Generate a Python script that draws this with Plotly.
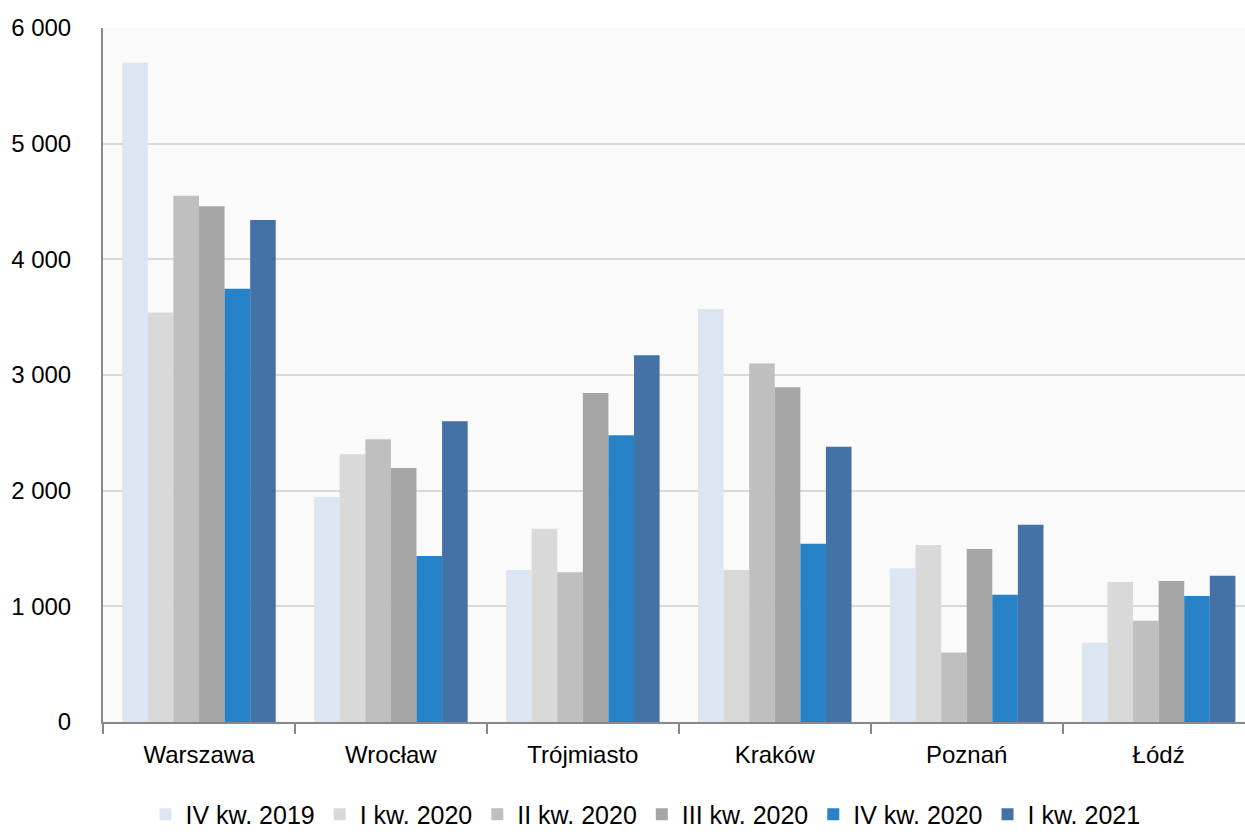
import plotly.graph_objects as go

cities = ["Warszawa", "Wrocław", "Trójmiasto", "Kraków", "Poznań", "Łódź"]
series_names = ["IV kw. 2019", "I kw. 2020", "II kw. 2020", "III kw. 2020", "IV kw. 2020", "I kw. 2021"]
iv_2019 = [5700, 1945, 1315, 3570, 1330, 685]
i_2020 = [3540, 2315, 1670, 1315, 1530, 1210]
ii_2020 = [4550, 2445, 1295, 3100, 600, 875]
iii_2020 = [4460, 2195, 2845, 2895, 1495, 1220]
iv_2020 = [3745, 1435, 2480, 1540, 1100, 1090]
i_2021 = [4340, 2600, 3170, 2380, 1705, 1265]
colors = ["#dce6f2", "#d9d9d9", "#bfbfbf", "#a6a6a6", "#2882c8", "#4472a6"]
tick_vals = [0, 1000, 2000, 3000, 4000, 5000, 6000]
tick_text = ["0", "1 000", "2 000", "3 000", "4 000", "5 000", "6 000"]

all_series = [iv_2019, i_2020, ii_2020, iii_2020, iv_2020, i_2021]

fig = go.Figure()
for name, vals, c in zip(series_names, all_series, colors):
    fig.add_trace(go.Bar(name=name, x=cities, y=vals, marker_color=c,
                         marker_line_width=0))

font_family = "Liberation Sans, Arial, sans-serif"
fig.update_layout(
    width=1245, height=832,
    margin=dict(l=103, r=0, t=28, b=110, autoexpand=False),
    paper_bgcolor="white", plot_bgcolor="#fafafa",
    barmode="group", bargap=0.2, bargroupgap=0,
    font=dict(family=font_family, size=24, color="#000000"),
    showlegend=True,
    legend=dict(orientation="h", x=0.475, xanchor="center", y=-0.1, yanchor="top",
                font=dict(size=25), traceorder="normal", itemwidth=30,
                bgcolor="rgba(0,0,0,0)"),
)
fig.update_xaxes(
    range=[-0.5, 5.45], showline=True, linecolor="#888888", linewidth=2,
    ticks="outside", tickson="boundaries", ticklen=10, tickwidth=2, tickcolor="#888888",
    showgrid=False, tickfont=dict(size=24), ticklabelstandoff=10,
)
fig.update_yaxes(
    range=[0, 6000], tickvals=tick_vals, ticktext=tick_text,
    showline=True, linecolor="#888888", linewidth=2,
    showgrid=True, gridcolor="#d9d9d9", gridwidth=2, zeroline=False,
    ticks="", tickfont=dict(size=24), ticklabelstandoff=25,
)
fig.write_html("out.html")
